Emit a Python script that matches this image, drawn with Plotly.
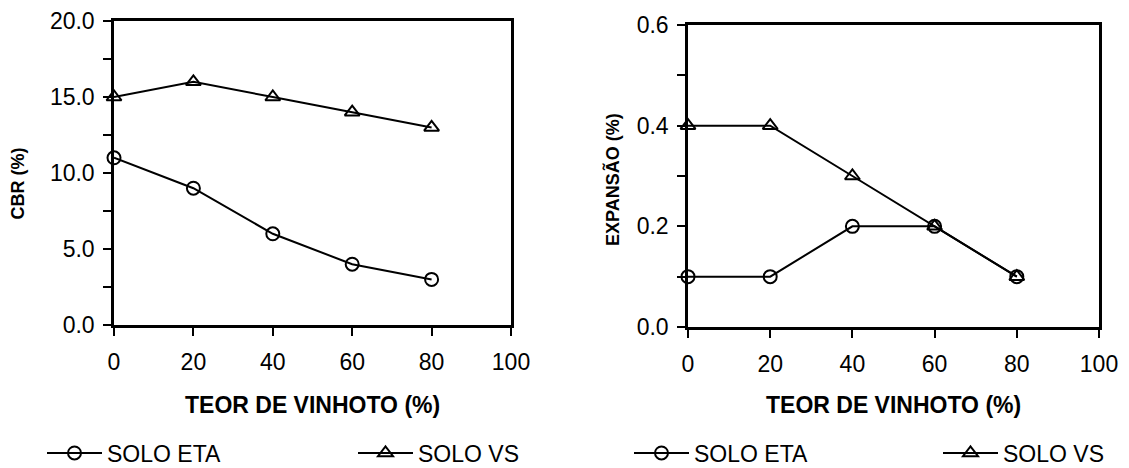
import plotly.graph_objects as go

teor = [0, 20, 40, 60, 80]
cbr_eta = [11, 9, 6, 4, 3]
cbr_vs = [15, 16, 15, 14, 13]
exp_eta = [0.1, 0.1, 0.2, 0.2, 0.1]
exp_vs = [0.4, 0.4, 0.3, 0.2, 0.1]
series_names = ["SOLO ETA", "SOLO VS"]
x_title = "TEOR DE VINHOTO (%)"
y_title_left = "CBR (%)"
y_title_right = "EXPANSÃO (%)"

FONT = "Liberation Sans, Arial, sans-serif"
W, H = 1129, 468

fig = go.Figure()

def add(x, y, name, symbol, xa, ya, legend):
    fig.add_trace(go.Scatter(
        x=x, y=y, name=name, mode="lines+markers",
        line=dict(color="black", width=2),
        marker=dict(symbol=symbol, size=13, color="black", line=dict(width=2, color="black")),
        xaxis=xa, yaxis=ya, legend=legend, cliponaxis=False, showlegend=True,
    ))

add(teor, cbr_eta, series_names[0], "circle-open", "x", "y", "legend")
add(teor, cbr_vs, series_names[1], "triangle-up-open", "x", "y", "legend2")
add(teor, exp_eta, series_names[0], "circle-open", "x2", "y2", "legend3")
add(teor, exp_vs, series_names[1], "triangle-up-open", "x2", "y2", "legend4")

axis_common = dict(
    showgrid=False, zeroline=False, showline=True, linecolor="black", linewidth=2.5,
    mirror=True, ticks="outside", ticklen=8, tickwidth=2, tickcolor="black",
    tickfont=dict(family=FONT, size=23, color="black"),
)

fig.update_layout(
    width=W, height=H, margin=dict(l=0, r=0, t=0, b=0, autoexpand=False),
    paper_bgcolor="white", plot_bgcolor="white",
    font=dict(family=FONT, color="black"),
    xaxis=dict(domain=[114 / W, 511 / W], range=[0, 100], dtick=20, anchor="y",
               ticklabelstandoff=7, **axis_common),
    yaxis=dict(domain=[(H - 325) / H, (H - 21) / H], range=[0, 20], dtick=5, tickformat=".1f",
               minor=dict(dtick=2.5, ticks="outside", ticklen=8, tickwidth=2, tickcolor="black"),
               anchor="x", ticklabelstandoff=4, **axis_common),
    xaxis2=dict(domain=[688 / W, 1099 / W], range=[0, 100], dtick=20, anchor="y2",
                ticklabelstandoff=7, **axis_common),
    yaxis2=dict(domain=[(H - 327) / H, (H - 25) / H], range=[0, 0.6], dtick=0.2, tickformat=".1f",
                minor=dict(dtick=0.1, ticks="outside", ticklen=8, tickwidth=2, tickcolor="black"),
                anchor="x2", ticklabelstandoff=4, **axis_common),
)

legend_common = dict(font=dict(family=FONT, size=23, color="black"), itemwidth=55,
                     bgcolor="rgba(0,0,0,0)", xanchor="left", yanchor="middle",
                     y=1 - 453 / H, orientation="h")
fig.update_layout(
    legend=dict(x=42 / W, **legend_common),
    legend2=dict(x=353 / W, **legend_common),
    legend3=dict(x=629 / W, **legend_common),
    legend4=dict(x=938 / W, **legend_common),
)

annotations = [
    dict(text=f"<b>{x_title}</b>", x=(114 + 511) / 2 / W, y=1 - 405 / H, font=dict(size=23)),
    dict(text=f"<b>{x_title}</b>", x=(688 + 1099) / 2 / W, y=1 - 405 / H, font=dict(size=23)),
    dict(text=f"<b>{y_title_left}</b>", x=17.5 / W, y=1 - 184 / H, textangle=-90, font=dict(size=18)),
    dict(text=f"<b>{y_title_right}</b>", x=613 / W, y=1 - 180 / H, textangle=-90, font=dict(size=18)),
]
for a in annotations:
    a.update(xref="paper", yref="paper", showarrow=False, xanchor="center", yanchor="middle")
    a["font"].update(family=FONT, color="black")
fig.update_layout(annotations=annotations)

fig.write_html("out.html")
